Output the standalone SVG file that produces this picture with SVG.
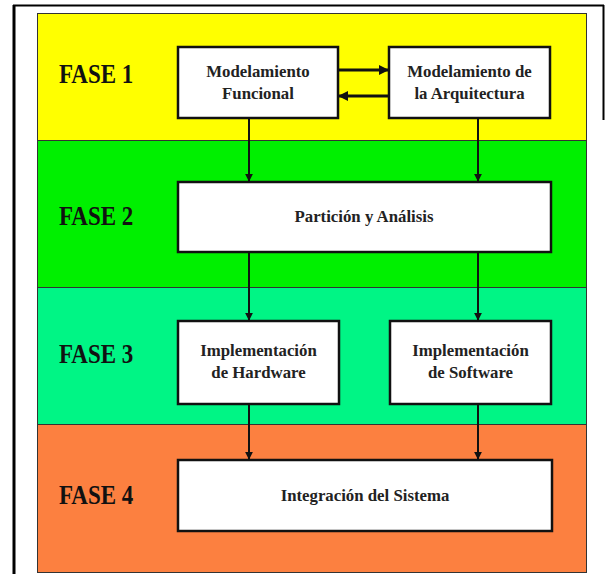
<svg xmlns="http://www.w3.org/2000/svg" width="609" height="574" viewBox="0 0 609 574">
<defs>
<style>
.band{stroke:#333;stroke-width:1}
.box{fill:#fff;stroke:#111;stroke-width:2.5}
.fase{font-weight:bold;font-size:23px;fill:#111}
.lbl{font-weight:bold;font-size:16.8px;fill:#222;text-anchor:middle}
.conn{stroke:#111;stroke-width:2;fill:none}
.conn2{stroke:#111;stroke-width:3;fill:none}
</style>
<marker id="ah" viewBox="0 0 10 10" refX="9" refY="5" markerWidth="4" markerHeight="4" orient="auto" markerUnits="strokeWidth">
<path d="M0,0 L10,5 L0,10 z" fill="#111"/>
</marker>
<marker id="ah2" viewBox="0 0 10 10" refX="9" refY="5" markerWidth="3.5" markerHeight="4" orient="auto" markerUnits="strokeWidth">
<path d="M0,0 L10,5 L0,10 z" fill="#111"/>
</marker>
</defs>
<rect width="609" height="574" fill="#fff"/>
<g id="frame">
<line x1="13" y1="5.5" x2="604" y2="5.5" stroke="#000" stroke-width="2"/>
<line x1="14" y1="5" x2="14" y2="574" stroke="#000" stroke-width="3"/>
<line x1="603.5" y1="5" x2="603.5" y2="120" stroke="#000" stroke-width="2"/>
</g>
<g id="bands">
<rect class="band" x="37.5" y="13.5" width="549" height="127" fill="#ffff00"/>
<rect class="band" x="37.5" y="140.5" width="549" height="147" fill="#00f000"/>
<rect class="band" x="37.5" y="287.5" width="549" height="137" fill="#00f585"/>
<rect class="band" x="37.5" y="424.5" width="549" height="148" fill="#fc8040"/>
</g>
<g id="labels" font-family="'Liberation Serif', 'DejaVu Serif', serif">
<text class="fase" transform="translate(59,83) scale(1,1.18)">FASE 1</text>
<text class="fase" transform="translate(59,225) scale(1,1.18)">FASE 2</text>
<text class="fase" transform="translate(59,363) scale(1,1.18)">FASE 3</text>
<text class="fase" transform="translate(59,504) scale(1,1.18)">FASE 4</text>
</g>
<g id="nodes" font-family="'Liberation Serif', 'DejaVu Serif', serif">
<g id="n1">
<rect class="box" x="178" y="47" width="160" height="71"/>
<text class="lbl" x="258" y="77">Modelamiento</text>
<text class="lbl" x="258" y="99">Funcional</text>
</g>
<g id="n2">
<rect class="box" x="389" y="47" width="161" height="71"/>
<text class="lbl" x="469.5" y="77">Modelamiento de</text>
<text class="lbl" x="469.5" y="99">la Arquitectura</text>
</g>
<g id="n3">
<rect class="box" x="178" y="182" width="373" height="70"/>
<text class="lbl" x="364" y="222">Partición y Análisis</text>
</g>
<g id="n4">
<rect class="box" x="178" y="321" width="161" height="83"/>
<text class="lbl" x="258.5" y="356">Implementación</text>
<text class="lbl" x="258.5" y="378">de Hardware</text>
</g>
<g id="n5">
<rect class="box" x="390" y="321" width="161" height="83"/>
<text class="lbl" x="470.5" y="356">Implementación</text>
<text class="lbl" x="470.5" y="378">de Software</text>
</g>
<g id="n6">
<rect class="box" x="178" y="460" width="374" height="71"/>
<text class="lbl" x="365" y="501">Integración del Sistema</text>
</g>
</g>
<g id="connectors">
<line class="conn2" x1="339" y1="70" x2="388" y2="70" marker-end="url(#ah2)"/>
<line class="conn2" x1="388" y1="96" x2="339" y2="96" marker-end="url(#ah2)"/>
<line class="conn" x1="249" y1="119" x2="249" y2="181" marker-end="url(#ah)"/>
<line class="conn" x1="478" y1="119" x2="478" y2="181" marker-end="url(#ah)"/>
<line class="conn" x1="249" y1="253" x2="249" y2="320" marker-end="url(#ah)"/>
<line class="conn" x1="478" y1="253" x2="478" y2="320" marker-end="url(#ah)"/>
<line class="conn" x1="249" y1="405" x2="249" y2="459" marker-end="url(#ah)"/>
<line class="conn" x1="478" y1="405" x2="478" y2="459" marker-end="url(#ah)"/>
</g>
</svg>
